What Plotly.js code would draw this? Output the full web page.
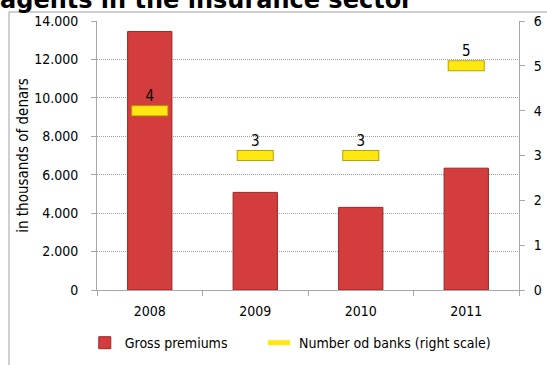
<!DOCTYPE html>
<html>
<head>
<meta charset="utf-8">
<script src="https://cdn.plot.ly/plotly-3.0.1.min.js"></script>
<style>html,body{margin:0;padding:0;background:#fff;}#chart{width:547px;height:365px;}</style>
</head>
<body>
<div id="chart"></div>
<script>
var years = ['2008', '2009', '2010', '2011'];
var grossPremiums = [13450, 5080, 4300, 6340];
var numberOfBanks = [4, 3, 3, 5];
var bankLabels = ['4', '3', '3', '5'];
var leftTicks = [0, 2000, 4000, 6000, 8000, 10000, 12000, 14000];
var rightTicks = [0, 1, 2, 3, 4, 5, 6];

var FONT = 'DejaVu Sans Condensed, DejaVu Sans, sans-serif';

var traces = [
  {
    type: 'bar', x: years, y: grossPremiums, name: 'Gross premiums',
    width: 0.42, legend: 'legend',
    marker: {color: '#d43d3d', line: {color: '#9c2626', width: 1}},
    hoverinfo: 'x+y'
  },
  {
    type: 'scatter', mode: 'markers', x: years, y: numberOfBanks, yaxis: 'y2',
    showlegend: false, hoverinfo: 'skip',
    marker: {symbol: 'line-ew', size: 26.5, color: '#b8a600', line: {color: '#b8a600', width: 11}}
  },
  {
    type: 'scatter', mode: 'markers', x: years, y: numberOfBanks, yaxis: 'y2',
    name: 'Number od banks (right scale)', legend: 'legend2',
    marker: {symbol: 'line-ew', size: 25, color: '#ffe812', line: {color: '#ffe812', width: 9}}
  },
  {
    type: 'scatter', mode: 'markers+text', x: years, y: numberOfBanks, yaxis: 'y2',
    text: bankLabels, textposition: 'top center', showlegend: false, hoverinfo: 'skip',
    textfont: {family: FONT, size: 15, color: '#000'},
    marker: {size: 8, color: 'rgba(0,0,0,0)'}
  }
];

var legendBase = {
  orientation: 'h', xref: 'container', yref: 'container',
  xanchor: 'left', y: 0.06, yanchor: 'middle',
  font: {size: 14}, bgcolor: 'rgba(0,0,0,0)'
};

var layout = {
  width: 547, height: 365,
  margin: {l: 97, r: 28, t: 21, b: 75},
  paper_bgcolor: '#fff', plot_bgcolor: '#fff',
  separators: ',.',
  barmode: 'overlay',
  font: {family: FONT, size: 14, color: '#000'},
  title: {
    text: 'agents in the insurance sector',
    font: {family: 'DejaVu Sans', size: 24, weight: 'bold', color: '#000'},
    xref: 'container', x: 0, xanchor: 'left',
    yref: 'container', y: 1, yanchor: 'middle'
  },
  xaxis: {
    type: 'category', tickson: 'boundaries', ticks: 'outside', ticklen: 5,
    tickcolor: '#a6a6a6', showline: true, linecolor: '#a6a6a6', linewidth: 1,
    showgrid: false, ticklabelstandoff: 8, tickfont: {size: 14},
    fixedrange: true
  },
  yaxis: {
    range: [0, 14000], tickvals: leftTicks, tickformat: ',d',
    ticks: 'outside', ticklen: 5, tickcolor: '#a6a6a6',
    showline: true, linecolor: '#a6a6a6', linewidth: 1,
    showgrid: true, gridcolor: '#a0a0a0', griddash: '1px,1px', gridwidth: 1,
    zeroline: false, ticklabelstandoff: 10, tickfont: {size: 14},
    title: {text: 'in thousands of denars', font: {size: 15}},
    automargin: false
  },
  yaxis2: {
    overlaying: 'y', side: 'right', range: [0, 6], tickvals: rightTicks,
    ticks: 'outside', ticklen: 5, tickcolor: '#a6a6a6',
    showline: true, linecolor: '#a6a6a6', linewidth: 1,
    showgrid: false, zeroline: false, ticklabelstandoff: 6, tickfont: {size: 14},
    automargin: false
  },
  legend: Object.assign({}, legendBase, {x: 0.155}),
  legend2: Object.assign({}, legendBase, {x: 0.4735}),
  shapes: [
    {type: 'line', xref: 'paper', yref: 'paper', x0: -0.2085, x1: -0.2085, y0: -0.3, y1: 1.0335,
     line: {color: '#a0a0a0', width: 1}},
    {type: 'line', xref: 'paper', yref: 'paper', x0: -0.2085, x1: 1.1, y0: 1.0335, y1: 1.0335,
     line: {color: '#a0a0a0', width: 1}}
  ],
  showlegend: true
};

Plotly.newPlot('chart', traces, layout, {displayModeBar: false, staticPlot: true});
</script>
</body>
</html>
